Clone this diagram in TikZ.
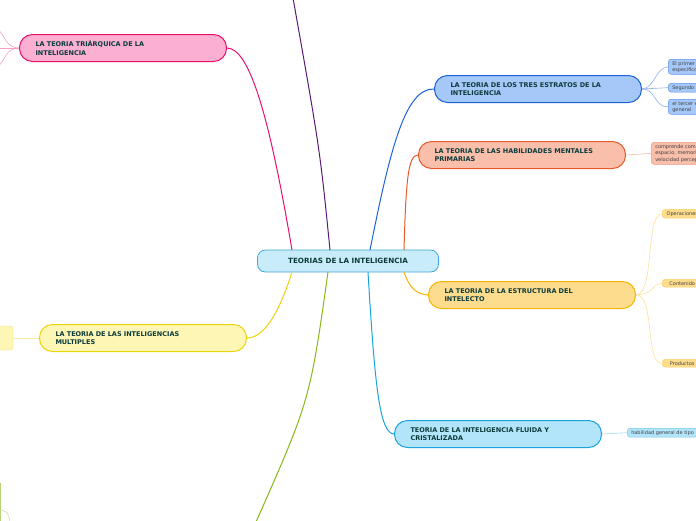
\documentclass[tikz,border=0pt]{standalone}
\usepackage{fontspec}
\setmainfont{DejaVu Sans}
\begin{document}
\begin{tikzpicture}[x=1pt,y=-1pt,
  main/.style={draw=#1,line width=1pt,rounded corners=13pt,minimum height=27pt,text width=175pt,inner xsep=16pt,anchor=north west,align=left,font=\bfseries\fontsize{6.5}{8.2}\selectfont,text=tdark},
  sub/.style={draw=#1,line width=0.5pt,rounded corners=3pt,anchor=north west,inner xsep=4pt,inner ysep=2pt,align=left,font=\fontsize{5}{6.2}\selectfont,text=black!75},
  con/.style={draw=#1,line width=1pt},
  scon/.style={draw=#1,line width=0.6pt}]
\definecolor{tdark}{HTML}{0B3B3B}
\definecolor{pinkb}{HTML}{E8106B}\definecolor{pinkf}{HTML}{FBB0D2}
\definecolor{blueb}{HTML}{1B63D6}\definecolor{bluef}{HTML}{A5C8F8}
\definecolor{salb}{HTML}{E85A28}\definecolor{salf}{HTML}{F9BFAB}
\definecolor{orab}{HTML}{F5B400}\definecolor{oraf}{HTML}{FEDC8E}
\definecolor{cyab}{HTML}{1AA3DD}\definecolor{cyaf}{HTML}{B3E5FA}
\definecolor{yelb}{HTML}{ECD408}\definecolor{yelf}{HTML}{FDF6B5}
\definecolor{cenf}{HTML}{C9ECFB}\definecolor{cenb}{HTML}{3FA9D6}
\definecolor{purp}{HTML}{5A1A78}\definecolor{gre}{HTML}{86B81A}
\useasboundingbox (0,0) rectangle (696,520);
\clip (0,0) rectangle (696,520);
% center
\node[draw=cenb,fill=cenf,line width=0.8pt,rounded corners=8pt,minimum width=181pt,minimum height=22pt,font=\bfseries\fontsize{7.2}{9}\selectfont,text=tdark] (c) at (348,261) {TEORIAS DE LA INTELIGENCIA};
% main nodes
\node[main=pinkb,fill=pinkf] (p) at (19,34) {LA TEORIA TRIÁRQUICA DE LA\\INTELIGENCIA};
\node[main=blueb,fill=bluef] (b) at (434,75) {LA TEORIA DE LOS TRES ESTRATOS DE LA\\INTELIGENCIA};
\node[main=salb,fill=salf] (s) at (418,141) {LA TEORIA DE LAS HABILIDADES MENTALES\\PRIMARIAS};
\node[main=orab,fill=oraf] (o) at (428,281) {LA TEORIA DE LA ESTRUCTURA DEL\\INTELECTO};
\node[main=cyab,fill=cyaf] (cy) at (394,420) {TEORIA DE LA INTELIGENCIA FLUIDA Y\\CRISTALIZADA};
\node[main=yelb,fill=yelf] (y) at (39,324) {LA TEORIA DE LAS INTELIGENCIAS\\MULTIPLES};
% connectors from center
\coordinate (cp) at (292,250); \coordinate (cyl) at (292,272);
\coordinate (cb) at (370,250); \coordinate (cs) at (404,250);
\coordinate (co) at (404,272); \coordinate (ccy) at (368,272);
\coordinate (pu) at (330,250); \coordinate (pt) at (293,-2);
\coordinate (gd) at (328,272); \coordinate (gb) at (256,522);
\draw[con=purp] (pu) .. controls (320,150) .. (pt);
\draw[con=gre] (gd) .. controls (310,400) .. (gb);
\draw[con=pinkb] (cp) .. controls (270,120) and (250,48) .. (p.east);
\draw[con=yelb] (cyl) .. controls (280,310) and (265,338) .. (y.east);
\draw[con=blueb] (cb) .. controls (390,150) and (405,88) .. (b.west);
\draw[con=salb] (cs) .. controls (406,180) and (408,155) .. (s.west);
\draw[con=orab] (co) .. controls (410,290) and (418,294) .. (o.west);
\draw[con=cyab] (ccy) .. controls (375,390) and (380,433) .. (cy.west);
% sub nodes
\node[sub=blueb!70,fill=bluef,minimum width=40pt] (b1) at (668,59) {El primer estrato\\especifico};
\node[sub=blueb!70,fill=bluef,minimum width=40pt] (b2) at (668,83) {Segundo estrato};
\node[sub=blueb!70,fill=bluef,minimum width=40pt] (b3) at (668,99) {el tercer estrato\\general};
\node[sub=salb!60,fill=salf,font=\fontsize{5}{6.6}\selectfont] (s1) at (651,142) {comprende comprensión\\espacio, memoria\\velocidad perceptiva};
\node[sub=orab!60,fill=oraf,minimum width=40pt] (o1) at (662,209) {Operaciones};
\node[sub=orab!60,fill=oraf,minimum width=40pt] (o2) at (662,279) {Contenido};
\node[sub=orab!60,fill=oraf,minimum width=40pt] (o3) at (662,359) {Productos};
\node[sub=cyab!60,fill=cyaf] (cy1) at (627,428) {habilidad general de tipo};
\node[draw=yelb!60,fill=yelf,rounded corners=3pt,minimum width=30pt,minimum height=24pt] (y1) at (-2,338) {};
\draw[scon=blueb!50] (b.east) .. controls (655,88) and (655,68) .. (b1.west);
\draw[scon=blueb!50] (b.east) -- (b2.west);
\draw[scon=blueb!50] (b.east) .. controls (655,88) and (655,108) .. (b3.west);
\draw[scon=salb!40] (s.east) -- (s1.west);
\draw[scon=orab!40] (o.east) .. controls (655,294) and (645,215) .. (o1.west);
\draw[scon=orab!40] (o.east) .. controls (655,294) and (650,285) .. (o2.west);
\draw[scon=orab!40] (o.east) .. controls (655,294) and (645,365) .. (o3.west);
\draw[scon=cyab!40] (cy.east) -- (cy1.west);
\draw[scon=yelb!40] (y.west) -- (y1.east);
\coordinate (pl1) at (-2,30); \coordinate (pl2) at (-2,66);
\draw[scon=pinkb!40] (p.west) .. controls (5,48) and (5,34) .. (pl1);
\draw[scon=pinkb!40] (p.west) .. controls (5,48) and (5,62) .. (pl2);
\draw[scon=pinkb!40] (p.west) -- (0,48);
\coordinate (g1) at (0,483); \coordinate (g2) at (0,522);
\draw[con=gre!60,line width=0.8pt] (g1) -- (g2);
\coordinate (g3) at (0,510); \coordinate (g4) at (10,522);
\draw[scon=gre!40] (g3) .. controls (8,512) .. (g4);
\end{tikzpicture}
\end{document}
